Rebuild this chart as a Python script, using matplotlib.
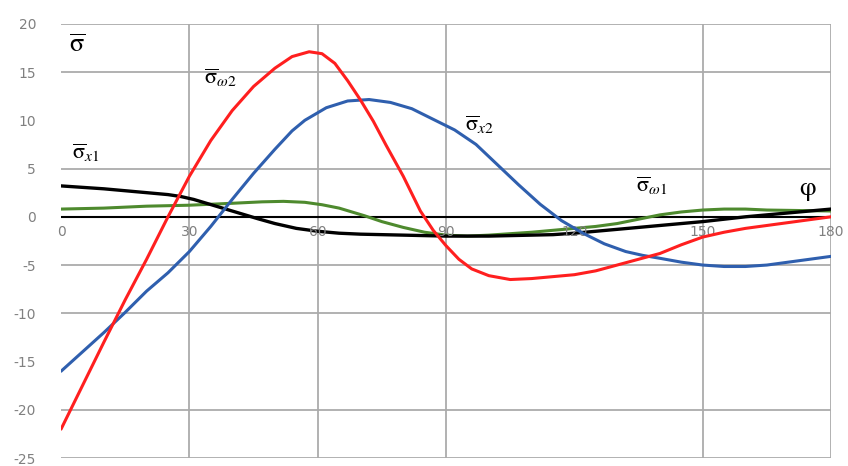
import matplotlib
matplotlib.use("Agg")
import matplotlib.pyplot as plt

plt.rcParams["mathtext.fontset"] = "stix"
plt.rcParams["font.family"] = "Liberation Serif"

# curve values (phi in degrees)
phi_red = [0, 5, 10, 15, 20, 25, 30, 35, 40, 45, 50, 54, 58, 61, 64, 67, 70, 73, 76, 80, 84,
           87, 90, 93, 96, 100, 105, 110, 115, 120, 125, 130, 135, 140, 145, 150, 155, 160,
           170, 180]
sig_w2 = [-22, -17.5, -13, -8.6, -4.4, 0, 4.2, 7.9, 11, 13.5, 15.4, 16.6, 17.1, 16.9, 15.9,
          14.1, 12.1, 9.9, 7.4, 4.2, 0.6, -1.4, -3.0, -4.4, -5.4, -6.1, -6.5, -6.4, -6.2,
          -6.0, -5.6, -5.0, -4.4, -3.8, -2.9, -2.1, -1.6, -1.2, -0.6, 0.0]

phi_blue = [0, 5, 10, 15, 20, 25, 30, 35, 40, 45, 50, 54, 57, 62, 67, 72, 77, 82, 87, 92, 97,
            102, 107, 112, 117, 122, 127, 132, 136, 140, 145, 150, 155, 160, 165, 170, 175,
            180]
sig_x2 = [-16, -14, -12, -9.9, -7.7, -5.8, -3.6, -1, 1.8, 4.5, 7, 8.9, 10, 11.3, 12.0, 12.15,
          11.85, 11.2, 10.1, 9.0, 7.5, 5.4, 3.3, 1.3, -0.4, -1.7, -2.8, -3.6, -4.0, -4.3,
          -4.7, -5.0, -5.15, -5.15, -5.0, -4.7, -4.4, -4.1]

phi_black = [0, 5, 10, 15, 20, 25, 28, 31, 34, 37, 40, 43, 46, 50, 55, 60, 65, 70, 80, 90,
             100, 110, 115, 120, 125, 130, 140, 150, 160, 170, 180]
sig_x1 = [3.2, 3.05, 2.9, 2.7, 2.5, 2.3, 2.1, 1.8, 1.4, 1.0, 0.6, 0.2, -0.2, -0.7, -1.2,
          -1.5, -1.7, -1.8, -1.9, -2.0, -2.0, -1.9, -1.85, -1.7, -1.5, -1.3, -0.9, -0.5, 0,
          0.4, 0.8]

phi_green = [0, 10, 20, 30, 40, 47, 52, 57, 61, 65, 68, 71, 75, 80, 85, 90, 95, 100, 110, 120,
             125, 130, 135, 140, 145, 150, 155, 160, 165, 180]
sig_w1 = [0.8, 0.9, 1.1, 1.2, 1.4, 1.55, 1.6, 1.5, 1.25, 0.9, 0.5, 0.1, -0.5, -1.1, -1.6,
          -1.9, -2.0, -1.9, -1.6, -1.2, -1.0, -0.7, -0.25, 0.2, 0.5, 0.7, 0.8, 0.8, 0.7, 0.6]

x_ticks = [0, 30, 60, 90, 120, 150, 180]
y_ticks = [20, 15, 10, 5, 0, -5, -10, -15, -20, -25]
x_grid = [30, 60, 90, 150, 180]
y_grid = [20, 15, 5, -5, -10, -20, -25]

fig = plt.figure(figsize=(8.48, 4.66), dpi=100)
ax = fig.add_axes([0.072, 0.017, 0.908, 0.932])
ax.set_xlim(0, 180)
ax.set_ylim(-25, 20)
for s in ax.spines.values():
    s.set_visible(False)

grid_c = "#ababab"
for g in x_grid:
    ax.axvline(g, color=grid_c, lw=1.3, zorder=1)
for g in y_grid:
    ax.axhline(g, color=grid_c, lw=1.3, zorder=1)
ax.axhline(0, color="black", lw=1.5, zorder=2)

kw = dict(solid_joinstyle="round", solid_capstyle="round")
ax.plot(phi_green, sig_w1, color="#4e8a2e", lw=2.2, zorder=3, **kw)
ax.plot(phi_black, sig_x1, color="black", lw=2.4, zorder=3, **kw)
ax.plot(phi_blue, sig_x2, color="#2f5fae", lw=2.2, zorder=4, **kw)
ax.plot(phi_red, sig_w2, color="#ff1f1f", lw=2.2, zorder=5, **kw)

ax.set_xticks([])
ax.set_yticks(y_ticks)
ax.set_yticklabels([str(v) for v in y_ticks], color="#808080", fontsize=10,
                   family="DejaVu Sans")
ax.tick_params(axis="y", length=0, pad=18)
for t in x_ticks:
    ax.text(t, -0.9, str(t), ha="center", va="top", color="#808080", fontsize=10,
            family="DejaVu Sans")

ax.text(1.8, 17.8, r"$\overline{\mathrm{σ}}$", fontsize=19, va="center")
ax.text(33.5, 14.4, r"$\overline{\mathrm{σ}}_{\omega2}$", fontsize=16, va="center")
ax.text(94.5, 9.5, r"$\overline{\mathrm{σ}}_{x2}$", fontsize=16, va="center")
ax.text(2.5, 6.6, r"$\overline{\mathrm{σ}}_{x1}$", fontsize=16, va="center")
ax.text(134.5, 3.2, r"$\overline{\mathrm{σ}}_{\omega1}$", fontsize=16, va="center")
ax.text(172.5, 2.6, r"$\mathrm{φ}$", fontsize=19, va="center")

fig.savefig("out.png", dpi=100)
